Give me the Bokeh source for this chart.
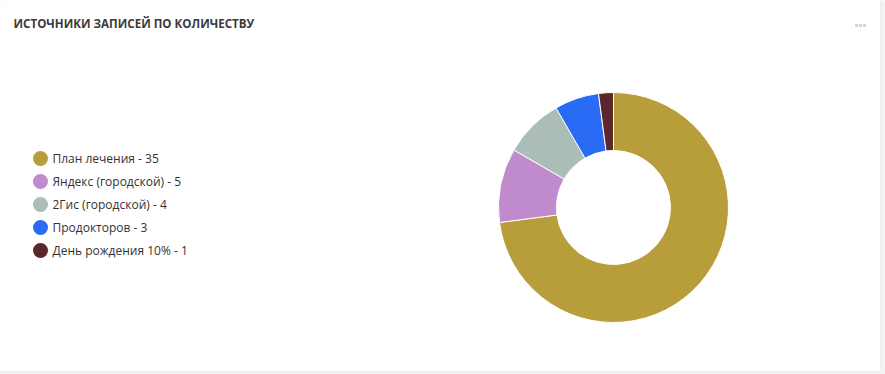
import math
from bokeh.plotting import figure
from bokeh.models import Range1d, ColumnDataSource
from bokeh.core.properties import value
from bokeh.embed import file_html
from bokeh.resources import INLINE

title = "ИСТОЧНИКИ ЗАПИСЕЙ ПО КОЛИЧЕСТВУ"
categories = ["План лечения", "Яндекс (городской)", "2Гис (городской)", "Продокторов", "День рождения 10%"]
counts = [35, 5, 4, 3, 1]
colors = ["#b89d3b", "#bf8bcd", "#abbcb9", "#2a6bf6", "#5a282c"]

W, H = 885, 374
p = figure(width=W, height=H, output_backend="svg", toolbar_location=None,
           x_range=Range1d(0, W), y_range=Range1d(0, H), min_border=0,
           background_fill_color="#f3f3f5", border_fill_color="#f3f3f5")
p.axis.visible = False
p.grid.visible = False
p.outline_line_color = None

# card
p.quad(left=[-2], right=[880], bottom=[H - 371], top=[H + 2], fill_color="white",
       line_color="#ececef", line_width=1)

# title
p.text(x=[13], y=[H - 23], text=[title], text_font=value("Open Sans"),
       text_font_size="11.6px", text_font_style="bold", text_color="#3a3a3a",
       text_baseline="middle", text_align="left")

# menu dots
p.scatter(x=[856, 860, 864], y=[H - 25] * 3, size=3, marker="square",
          fill_color="#d6d6da", line_color=None)

# donut
total = sum(counts)
starts, ends = [], []
cum = 0
for c in counts:
    starts.append(math.pi / 2 - cum / total * 2 * math.pi)
    cum += c
    ends.append(math.pi / 2 - cum / total * 2 * math.pi)
src = ColumnDataSource(dict(start=starts, end=ends, color=colors))
p.annular_wedge(x=613, y=H - 207, inner_radius=57, outer_radius=115,
                start_angle="start", end_angle="end", direction="clock",
                fill_color="color", line_color="white", line_width=1, source=src)

# legend
ly = [H - (158 + 23 * i) for i in range(len(categories))]
labels = [f"{c} - {n}" for c, n in zip(categories, counts)]
p.scatter(x=[40] * len(categories), y=ly, size=15, fill_color=colors, line_color=None)
p.text(x=[52] * len(categories), y=ly, text=labels, text_font=value("Open Sans"),
       text_font_size="12px", text_color="#333333", text_baseline="middle",
       text_align="left")

open("out.html", "w").write(file_html(p, INLINE))
